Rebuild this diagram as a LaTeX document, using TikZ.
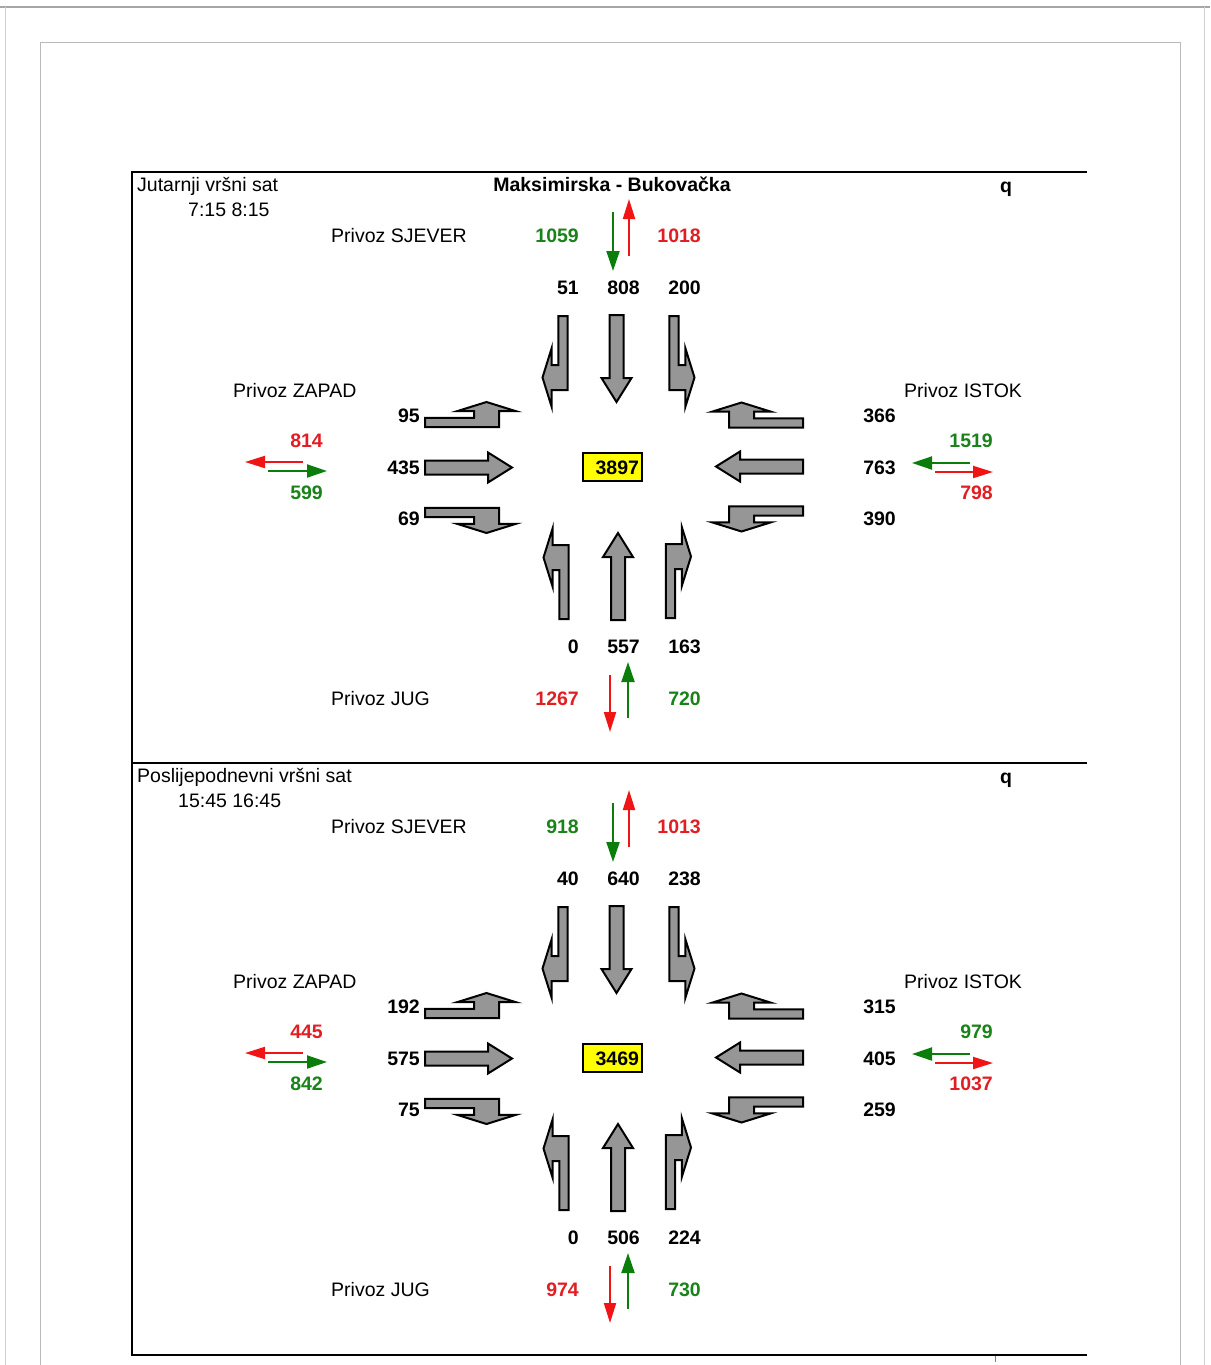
\documentclass[tikz,border=0pt]{standalone}
\usepackage{fontspec}
\setmainfont{Liberation Sans}
\usetikzlibrary{arrows.meta}
\definecolor{tgreen}{RGB}{25,130,25}
\definecolor{tred}{RGB}{225,30,35}
\definecolor{agreen}{RGB}{10,125,10}
\definecolor{ared}{RGB}{240,20,20}
\definecolor{lanegray}{RGB}{150,150,150}
\definecolor{boxyellow}{RGB}{255,255,0}
\tikzset{
  lbl/.style={font=\fontsize{19.5}{22}\selectfont, inner sep=0pt, text height=14pt, text depth=0pt},
  num/.style={font=\fontsize{19.5}{22}\selectfont\bfseries, inner sep=0pt, text height=14pt, text depth=0pt},
  gnum/.style={num, text=tgreen},
  rnum/.style={num, text=tred},
  lane/.style={draw=black, fill=lanegray, line width=2pt, line join=miter},
  flowg/.style={draw=agreen, line width=2pt, -{Triangle[length=20pt,width=13pt]}},
  flowr/.style={draw=ared, line width=2pt, -{Triangle[length=20pt,width=12pt]}},
}
\newcommand\turnlane[1]{\draw[lane,#1] (4.7,0) -- (4.7,74) -- (-11.3,74) -- (-11.3,91) -- (-20.5,61.5) -- (-11.3,32) -- (-11.3,49) -- (-4.7,49) -- (-4.7,0) -- cycle;}
\newcommand\straightlane[1]{\draw[lane,#1] (-7,0) -- (7,0) -- (7,63) -- (15,63) -- (0,87) -- (-15,63) -- (-7,63) -- cycle;}
\newcommand\drawpanel[2]{%
\begin{scope}[shift={(0,#2)}]
  \node[lbl, anchor=west] (#1-title) at (137,184) {\Ptitle};
  \node[lbl, anchor=west] (#1-time) at (\Ptimex,209) {\Ptime};
  \node[num] (#1-q) at (1006,185) {q};
  % north
  \node[lbl, anchor=west] (#1-sjever) at (331,235) {Privoz SJEVER};
  \node[gnum, anchor=east] (#1-nin) at (579,235) {\Nin};
  \node[rnum, anchor=east] (#1-nout) at (701,235) {\Nout};
  \coordinate (#1-na1) at (613,212); \coordinate (#1-na2) at (613,271);
  \draw[flowg] (#1-na1) -- (#1-na2);
  \coordinate (#1-nb1) at (629,256); \coordinate (#1-nb2) at (629,199);
  \draw[flowr] (#1-nb1) -- (#1-nb2);
  \node[num, anchor=east] (#1-nl) at (579,287) {\Nl};
  \node[num, anchor=east] (#1-ns) at (640,287) {\Ns};
  \node[num, anchor=east] (#1-nr) at (701,287) {\Nr};
  \turnlane{shift={(563,316)}}
  \straightlane{shift={(616.5,315)}}
  \turnlane{shift={(674,316)}, xscale=-1}
  % west
  \node[lbl, anchor=west] (#1-zapad) at (233,390) {Privoz ZAPAD};
  \node[num, anchor=east] (#1-wt) at (420,415) {\Wt};
  \node[num, anchor=east] (#1-ws) at (420,467) {\Ws};
  \node[num, anchor=east] (#1-wb) at (420,518) {\Wb};
  \node[rnum, anchor=east] (#1-wout) at (323,440) {\Wout};
  \node[gnum, anchor=east] (#1-win) at (323,492) {\Win};
  \coordinate (#1-wa1) at (303,462); \coordinate (#1-wa2) at (245,462);
  \draw[flowr] (#1-wa1) -- (#1-wa2);
  \coordinate (#1-wb1) at (268,471); \coordinate (#1-wb2) at (327,471);
  \draw[flowg] (#1-wb1) -- (#1-wb2);
  \turnlane{shift={(425,422.5)}, cm={0,1,1,0,(0,0)}}
  \straightlane{shift={(425,467.5)}, cm={0,1,1,0,(0,0)}}
  \turnlane{shift={(425,512.5)}, cm={0,-1,1,0,(0,0)}}
  % east
  \node[lbl, anchor=west] (#1-istok) at (904,390) {Privoz ISTOK};
  \node[num, anchor=east] (#1-et) at (896,415) {\Et};
  \node[num, anchor=east] (#1-es) at (896,467) {\Es};
  \node[num, anchor=east] (#1-eb) at (896,518) {\Eb};
  \node[gnum, anchor=east] (#1-ein) at (993,440) {\Ein};
  \node[rnum, anchor=east] (#1-eout) at (993,492) {\Eout};
  \coordinate (#1-ea1) at (970,463); \coordinate (#1-ea2) at (912,463);
  \draw[flowg] (#1-ea1) -- (#1-ea2);
  \coordinate (#1-eb1) at (935,472); \coordinate (#1-eb2) at (993,472);
  \draw[flowr] (#1-eb1) -- (#1-eb2);
  \turnlane{shift={(803,423)}, cm={0,1,-1,0,(0,0)}}
  \straightlane{shift={(803,466.5)}, cm={0,1,-1,0,(0,0)}}
  \turnlane{shift={(803,511)}, cm={0,-1,-1,0,(0,0)}}
  % south
  \node[lbl, anchor=west] (#1-jug) at (331,698) {Privoz JUG};
  \node[rnum, anchor=east] (#1-sout) at (579,698) {\Sout};
  \node[gnum, anchor=east] (#1-sin) at (701,698) {\Sin};
  \coordinate (#1-sa1) at (610,675); \coordinate (#1-sa2) at (610,732);
  \draw[flowr] (#1-sa1) -- (#1-sa2);
  \coordinate (#1-sb1) at (628,718); \coordinate (#1-sb2) at (628,662);
  \draw[flowg] (#1-sb1) -- (#1-sb2);
  \node[num, anchor=east] (#1-sl) at (579,646) {\Sl};
  \node[num, anchor=east] (#1-ss) at (640,646) {\Ss};
  \node[num, anchor=east] (#1-sr) at (701,646) {\Sr};
  \turnlane{shift={(564,619)}, yscale=-1}
  \straightlane{shift={(618,620)}, yscale=-1}
  \turnlane{shift={(670.5,618)}, scale=-1}
  % total
  \node[num, draw=black, fill=boxyellow, line width=1.5pt, text width=53pt, align=right,
        inner xsep=3pt, minimum height=28pt] (#1-tot) at (612.5,467) {\Tot};
\end{scope}}
\begin{document}
\begin{tikzpicture}[x=1pt, y=1pt, yscale=-1]
  \useasboundingbox (0,0) rectangle (1210,1365);
  \fill[white] (0,0) rectangle (1210,1365);
  % page borders
  \draw[gray!70, line width=1.2pt] (0,7) -- (1210,7);
  \draw[gray!35, line width=1pt] (5,7) -- (5,1365);
  \draw[gray!35, line width=1pt] (1204,7) -- (1204,1365);
  \draw[gray!55, line width=1pt] (40,1365) -- (40,42) -- (1180,42) -- (1180,1365);
  % table frame
  \draw[black, line width=2.5pt] (1087,172) -- (132,172);
  \draw[black, line width=2pt] (132,171) -- (132,1356);
  \draw[black, line width=2.5pt] (132,1355) -- (1087,1355);
  \draw[black, line width=1.5pt] (132,763) -- (1087,763);
  \draw[gray, line width=1pt] (995,1356) -- (995,1362);
  \node[num] (title) at (612,184) {Maksimirska - Bukovačka};
  % morning
  \def\Ptitle{Jutarnji vršni sat}\def\Ptime{7:15 8:15}\def\Ptimex{188}
  \def\Nin{1059}\def\Nout{1018}\def\Nl{51}\def\Ns{808}\def\Nr{200}
  \def\Wt{95}\def\Ws{435}\def\Wb{69}\def\Wout{814}\def\Win{599}
  \def\Et{366}\def\Es{763}\def\Eb{390}\def\Ein{1519}\def\Eout{798}
  \def\Sout{1267}\def\Sin{720}\def\Sl{0}\def\Ss{557}\def\Sr{163}
  \def\Tot{3897}
  \drawpanel{am}{0}
  % afternoon
  \def\Ptitle{Poslijepodnevni vršni sat}\def\Ptime{15:45 16:45}\def\Ptimex{178}
  \def\Nin{918}\def\Nout{1013}\def\Nl{40}\def\Ns{640}\def\Nr{238}
  \def\Wt{192}\def\Ws{575}\def\Wb{75}\def\Wout{445}\def\Win{842}
  \def\Et{315}\def\Es{405}\def\Eb{259}\def\Ein{979}\def\Eout{1037}
  \def\Sout{974}\def\Sin{730}\def\Sl{0}\def\Ss{506}\def\Sr{224}
  \def\Tot{3469}
  \drawpanel{pm}{591}
\end{tikzpicture}
\end{document}
